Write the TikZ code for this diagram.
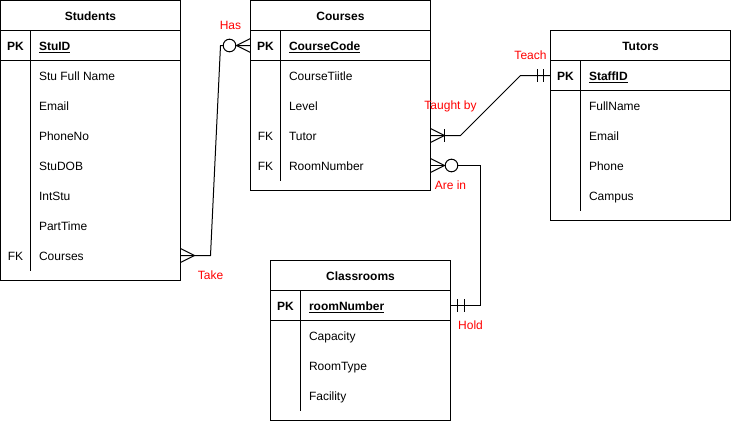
\documentclass[tikz,border=0pt]{standalone}
\usepackage{fontspec}
\setmainfont{Liberation Sans}
\usetikzlibrary{calc}
\definecolor{erred}{HTML}{FF0000}

% #1 name, #2 x, #3 y, #4 title, #5 number of field rows, #6 rows key/field
\newcommand{\ertable}[6]{%
  \pgfmathsetmacro{\erh}{40+30*#5}%
  \node[frame, minimum height=\erh pt] (#1) at (#2+90,#3+\erh/2) {};
  \draw ($(#1.north west)+(0,30)$) -- ($(#1.north east)+(0,30)$);
  \draw ($(#1.north west)+(0,60)$) -- ($(#1.north east)+(0,60)$);
  \draw ($(#1.north west)+(30,30)$) -- ($(#1.north west)+(30,30+30*#5)$);
  \node[titletext] (#1-t) at ($(#1.north)+(0,16)$) {#4};
  \foreach \k/\f [count=\i from 0] in {#6} {
    \node[keytext] (#1-k\i) at ($(#1.north west)+(15,46+30*\i)$) {\k};
    \node[fieldtext] (#1-r\i) at ($(#1.north west)+(38,46+30*\i)$) {\f};
  }
}
% crow's foot: #1 point on entity edge, #2 direction (+1 entity to the right, -1 to the left)
\newcommand{\ercrow}[2]{\begin{scope}[shift={(#1)},xscale=#2]
  \draw (0,-7) -- (-14,0) -- (0,7); \draw (0,0) -- (-14,0);
\end{scope}}
\newcommand{\erbar}[3]{\begin{scope}[shift={(#1)},xscale=#2]
  \draw (-#3,-6.5) -- (-#3,6.5);
\end{scope}}
\newcommand{\ercircle}[2]{\begin{scope}[shift={(#1)},xscale=#2]
  \draw[fill=white] (-21,0) circle (6.3);
\end{scope}}

\begin{document}
\begin{tikzpicture}[x=1pt,y=-1pt,line width=1pt,
  frame/.style={draw,rectangle,minimum width=180pt,inner sep=0pt,outer sep=0pt},
  txt/.style={inner sep=0pt,text height=8.6pt,text depth=0pt,font=\fontsize{12}{14}\selectfont},
  titletext/.style={txt,font=\fontsize{12}{14}\selectfont\bfseries},
  keytext/.style={txt},
  fieldtext/.style={txt,anchor=west},
  rel/.style={txt,text=erred},
  conn/.style={draw,line width=1pt}]
\useasboundingbox (-0.5,-0.5) rectangle (730.5,420.5);

\ertable{students}{0}{0}{Students}{8}{%
  {\textbf{PK}}/{\underline{\textbf{StuID}}},
  {}/{Stu Full Name},{}/{Email},{}/{PhoneNo},{}/{StuDOB},{}/{IntStu},{}/{PartTime},{FK}/{Courses}}
\ertable{courses}{250}{0}{Courses}{5}{%
  {\textbf{PK}}/{\underline{\textbf{CourseCode}}},
  {}/{CourseTiitle},{}/{Level},{FK}/{Tutor},{FK}/{RoomNumber}}
\ertable{tutors}{550}{30}{Tutors}{5}{%
  {\textbf{PK}}/{\underline{\textbf{StaffID}}},
  {}/{FullName},{}/{Email},{}/{Phone},{}/{Campus}}
\ertable{classrooms}{270}{260}{Classrooms}{4}{%
  {\textbf{PK}}/{\underline{\textbf{roomNumber}}},
  {}/{Capacity},{}/{RoomType},{}/{Facility}}

\coordinate (sC) at ($(students.north east)+(0,255)$);
\coordinate (cCC) at ($(courses.north west)+(0,45)$);
\coordinate (cT) at ($(courses.north east)+(0,135)$);
\coordinate (cR) at ($(courses.north east)+(0,165)$);
\coordinate (tS) at ($(tutors.north west)+(0,45)$);
\coordinate (rN) at ($(classrooms.north east)+(0,45)$);

% Students.Courses  >--o<  Courses.CourseCode
\draw[conn] (sC) -- ++(30,0) -- ($(cCC)+(-30,0)$) -- (cCC);
\ercrow{sC}{-1}
\ercrow{cCC}{1}
\ercircle{cCC}{1}

% Courses.Tutor  >|--||  Tutors.StaffID
\draw[conn] (cT) -- ++(30,0) -- ($(tS)+(-30,0)$) -- (tS);
\ercrow{cT}{-1}
\erbar{cT}{-1}{14}
\erbar{tS}{1}{7}
\erbar{tS}{1}{13.5}

% Courses.RoomNumber  >o--||  Classrooms.roomNumber
\draw[conn] (cR) -- ++(50,0) |- (rN);
\ercrow{cR}{-1}
\ercircle{cR}{-1}
\erbar{rN}{-1}{7}
\erbar{rN}{-1}{14}

\node[rel] (lHas) at (230,25) {Has};
\node[rel] (lTake) at (210,275) {Take};
\node[rel] (lTeach) at (530,55) {Teach};
\node[rel] (lTaught) at (450,105) {Taught by};
\node[rel] (lArein) at (450,185) {Are in};
\node[rel] (lHold) at (470,325) {Hold};
\end{tikzpicture}
\end{document}
